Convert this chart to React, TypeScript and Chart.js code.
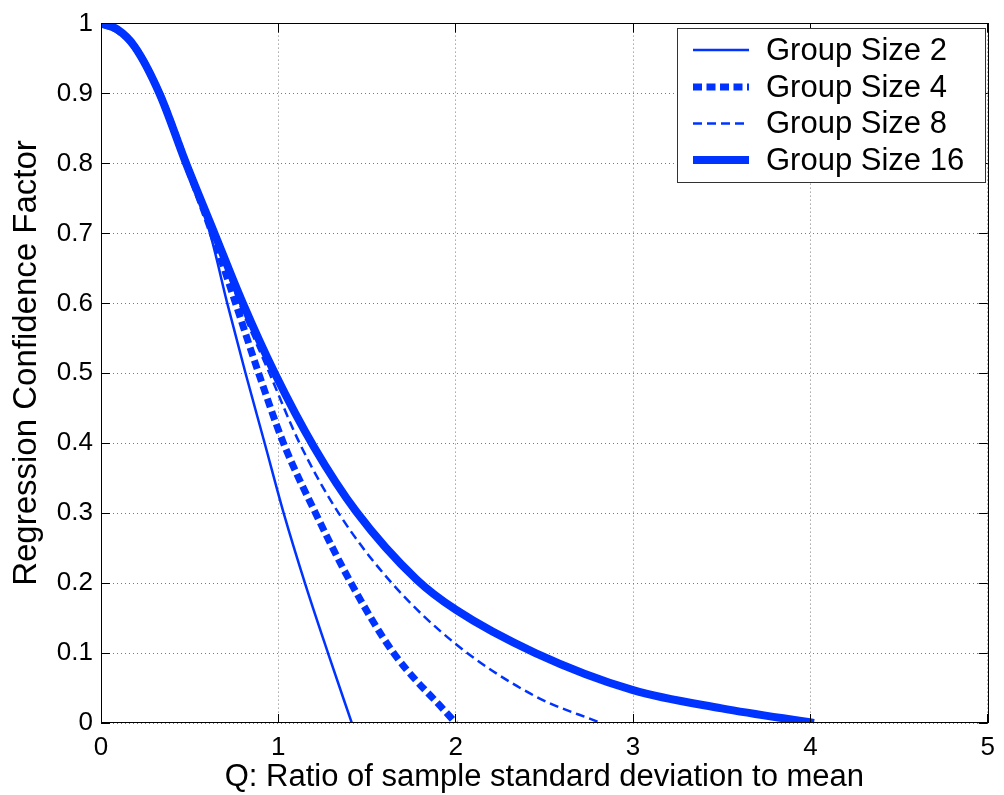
import React, { useEffect, useRef } from "react";
import { Chart, registerables } from "chart.js";

Chart.register(...registerables);

// ---- data ----
const seriesLabels = ["Group Size 2", "Group Size 4", "Group Size 8", "Group Size 16"];

const qGroup2 = [0, 0.09, 0.19, 0.33, 0.48, 0.615, 0.712, 0.815, 0.923, 1.03, 1.15, 1.28, 1.414];
const vGroup2 = [1, 0.991, 0.966, 0.9, 0.8, 0.7, 0.6, 0.5, 0.4, 0.3, 0.2, 0.1, 0];

const qGroup4 = [0, 0.09, 0.19, 0.33, 0.48, 0.627, 0.759, 0.889, 1.029, 1.21, 1.41, 1.65, 1.95, 2.0];
const vGroup4 = [1, 0.991, 0.967, 0.9, 0.8, 0.7, 0.6, 0.5, 0.4, 0.3, 0.2, 0.1, 0.014, 0];

const qGroup8 = [0, 0.09, 0.19, 0.33, 0.48, 0.635, 0.78, 0.95, 1.12, 1.34, 1.64, 2.0, 2.45, 2.82];
const vGroup8 = [1, 0.992, 0.967, 0.9, 0.8, 0.7, 0.6, 0.5, 0.4, 0.3, 0.2, 0.113, 0.038, 0];

const qGroup16 = [0, 0.09, 0.19, 0.33, 0.48, 0.64, 0.8, 0.98, 1.2, 1.44, 1.78, 2.0, 2.45, 3.0, 3.5, 4.02];
const vGroup16 = [1, 0.992, 0.967, 0.9, 0.8, 0.7, 0.6, 0.5, 0.395, 0.302, 0.205, 0.162, 0.1, 0.047, 0.021, 0];

const xTicks = [0, 1, 2, 3, 4, 5];
const yTicks = [0, 0.1, 0.2, 0.3, 0.4, 0.5, 0.6, 0.7, 0.8, 0.9, 1];

const xTitle = "Q: Ratio of sample standard deviation to mean";
const yTitle = "Regression Confidence Factor";

// ---- styles ----
const BLUE = "#0033ff";
const FONT = "'Liberation Sans', Arial, Helvetica, sans-serif";

const toPoints = (q: number[], v: number[]) => q.map((x, i) => ({ x, y: v[i] }));

const alignPx = (p: number) => Math.round(p - 0.5) + 0.5;

const frameAndTicks = {
  id: "frameAndTicks",
  afterDatasetsDraw(chart: any) {
    const { ctx, chartArea, scales } = chart;
    const { left, right, top, bottom } = chartArea;
    const xs = scales.x;
    const ys = scales.y;
    const L = 9;
    ctx.save();
    ctx.strokeStyle = "#000";
    ctx.lineWidth = 1;
    ctx.beginPath();
    xs.ticks.forEach((t: any) => {
      const px = alignPx(xs.getPixelForValue(t.value));
      ctx.moveTo(px, bottom);
      ctx.lineTo(px, bottom - L);
      ctx.moveTo(px, top);
      ctx.lineTo(px, top + L);
    });
    ys.ticks.forEach((t: any) => {
      const py = alignPx(ys.getPixelForValue(t.value));
      ctx.moveTo(left, py);
      ctx.lineTo(left + L, py);
      ctx.moveTo(right, py);
      ctx.lineTo(right - L, py);
    });
    ctx.stroke();
    ctx.strokeRect(alignPx(left), alignPx(top), Math.round(right - left), Math.round(bottom - top));
    ctx.restore();
  },
};

const yAxisTitle = {
  id: "yAxisTitle",
  afterDraw(chart: any) {
    const { ctx } = chart;
    ctx.save();
    ctx.translate(27, 363);
    ctx.rotate(-Math.PI / 2);
    ctx.fillStyle = "#000";
    ctx.font = `33px ${FONT}`;
    ctx.textAlign = "center";
    ctx.textBaseline = "middle";
    ctx.fillText(yTitle, 0, 0);
    ctx.restore();
  },
};

const boxLegend = {
  id: "boxLegend",
  afterDraw(chart: any) {
    const { ctx } = chart;
    const bx = 677.5, by = 28.5, bw = 308, bh = 154;
    ctx.save();
    ctx.fillStyle = "#fff";
    ctx.fillRect(bx, by, bw, bh);
    ctx.strokeStyle = "#333";
    ctx.lineWidth = 1;
    ctx.strokeRect(bx, by, bw, bh);
    const rows = [50, 87, 123.5, 160];
    chart.data.datasets.forEach((ds: any, i: number) => {
      const y = rows[i];
      ctx.save();
      ctx.strokeStyle = ds.borderColor;
      ctx.lineWidth = ds.borderWidth;
      ctx.setLineDash(ds.borderDash || []);
      ctx.beginPath();
      ctx.moveTo(693, y);
      ctx.lineTo(749, y);
      ctx.stroke();
      ctx.restore();
      ctx.fillStyle = "#000";
      ctx.font = `31px ${FONT}`;
      ctx.textBaseline = "middle";
      ctx.textAlign = "left";
      ctx.fillText(ds.label, 766, y + 1);
    });
    ctx.restore();
  },
};

export default function App() {
  const ref = useRef<HTMLCanvasElement>(null);

  useEffect(() => {
    if (!ref.current) return;
    const chart = new Chart(ref.current, {
      type: "line",
      data: {
        datasets: [
          {
            label: seriesLabels[0],
            data: toPoints(qGroup2, vGroup2),
            borderColor: BLUE,
            borderWidth: 2.5,
            borderDash: [],
          },
          {
            label: seriesLabels[1],
            data: toPoints(qGroup4, vGroup4),
            borderColor: BLUE,
            borderWidth: 7,
            borderDash: [9, 4.5],
          },
          {
            label: seriesLabels[2],
            data: toPoints(qGroup8, vGroup8),
            borderColor: BLUE,
            borderWidth: 2.5,
            borderDash: [9, 5],
          },
          {
            label: seriesLabels[3],
            data: toPoints(qGroup16, vGroup16),
            borderColor: BLUE,
            borderWidth: 8,
            borderDash: [],
          },
        ].map((d) => ({
          ...d,
          pointRadius: 0,
          pointHoverRadius: 0,
          fill: false,
          cubicInterpolationMode: "monotone" as const,
          clip: 0,
        })),
      },
      options: {
        responsive: false,
        animation: false,
        devicePixelRatio: 1,
        events: [],
        layout: { padding: { left: 0, top: 19, right: 9, bottom: 0 } },
        plugins: {
          legend: { display: false },
          tooltip: { enabled: false },
          title: { display: false },
        },
        scales: {
          x: {
            type: "linear",
            min: 0,
            max: 5,
            afterBuildTicks: (scale: any) => {
              scale.ticks = xTicks.map((value) => ({ value }));
            },
            afterFit: (scale: any) => {
              scale.height = 72;
            },
            grid: { color: "#7a7a7a", lineWidth: 1, drawTicks: false },
            border: { display: false, dash: [1, 3] },
            ticks: {
              color: "#000",
              padding: 9,
              font: { family: FONT, size: 26, lineHeight: 1.2 },
              maxRotation: 0,
              callback: (v: any) => String(v),
            },
            title: {
              display: true,
              text: xTitle,
              color: "#000",
              font: { family: FONT, size: 31, lineHeight: 1 },
              padding: { top: 0, bottom: 2 },
            },
          },
          y: {
            type: "linear",
            min: 0,
            max: 1,
            afterBuildTicks: (scale: any) => {
              scale.ticks = yTicks.map((value) => ({ value }));
            },
            afterFit: (scale: any) => {
              scale.width = 101;
            },
            grid: { color: "#7a7a7a", lineWidth: 1, drawTicks: false },
            border: { display: false, dash: [1, 3] },
            ticks: {
              color: "#000",
              padding: 8,
              font: { family: FONT, size: 26, lineHeight: 1.2 },
              callback: (v: any) => String(Math.round(Number(v) * 10) / 10),
            },
            title: { display: false },
          },
        },
      },
      plugins: [frameAndTicks, yAxisTitle, boxLegend],
    });
    return () => chart.destroy();
  }, []);

  return (
    <div style={{ position: "absolute", left: 0, top: 0, width: 1004, height: 795, background: "#fff" }}>
      <canvas ref={ref} width={1004} height={795} style={{ display: "block", width: 1004, height: 795 }} />
    </div>
  );
}
